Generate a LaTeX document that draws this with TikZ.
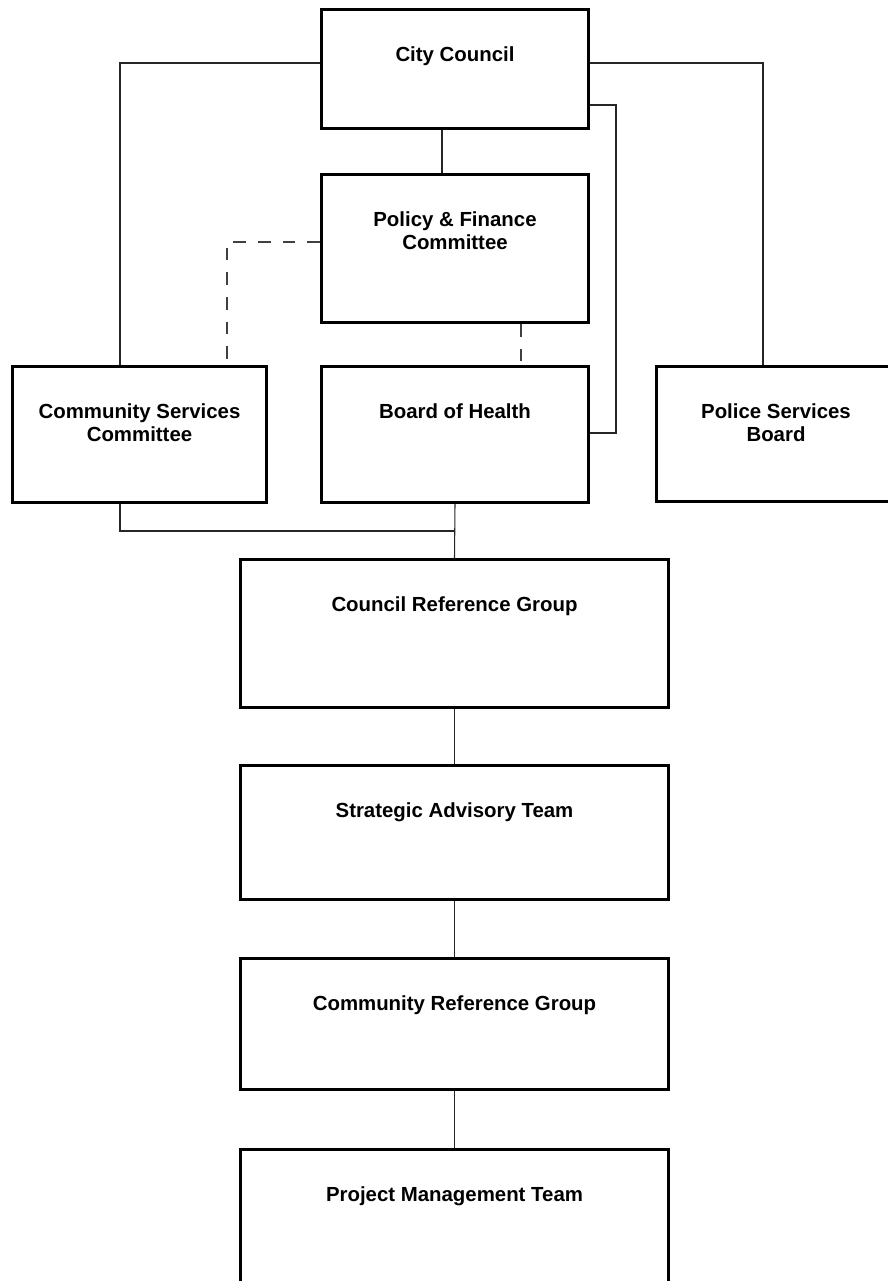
\documentclass[tikz,border=0pt]{standalone}
\usepackage{fontspec}
\setmainfont{Liberation Sans}
\usetikzlibrary{calc}

\tikzset{
  lbl/.style={font=\bfseries\fontsize{15.3}{17.6}\selectfont, align=center, inner sep=0pt},
  box/.style={draw, line width=2.25pt, inner sep=0pt,
    label={[lbl,anchor=north,yshift=-28.5pt]north:#1}},
  link/.style={draw=black!85, line width=0.8pt},
  dashlink/.style={draw=black!75, line width=0.9pt, dash pattern=on 9.5pt off 9pt}
}

\begin{document}
\begin{tikzpicture}[x=0.75pt,y=-0.75pt]
  \useasboundingbox (0,0) rectangle (888,1281);

  % top of the structure
  \node[box={City Council}, minimum width=200.25pt, minimum height=89.25pt] (cc) at (455,69) {};
  \node[box={Policy \& Finance\\Committee}, minimum width=200.25pt, minimum height=111pt] (pf) at (455,248.5) {};

  % committees and boards
  \node[box={Community Services\\Committee}, minimum width=190.5pt, minimum height=102pt] (csc) at (139.5,434.5) {};
  \node[box={Board of Health}, minimum width=200.25pt, minimum height=102pt] (boh) at (455,434.5) {};
  \node[box={Police Services\\Board}, minimum width=179.25pt, minimum height=101.25pt] (psb) at (776,434) {};

  % project groups
  \node[box={Council Reference Group}, minimum width=321pt, minimum height=111pt] (crg) at (454.5,633.5) {};
  \node[box={Strategic Advisory Team}, minimum width=321pt, minimum height=100.5pt] (sat) at (454.5,832.5) {};
  \node[box={Community Reference Group}, minimum width=321pt, minimum height=98.25pt] (cmrg) at (454.5,1024) {};
  \node[box={Project Management Team}, minimum width=321pt, minimum height=111pt] (pmt) at (454.5,1223.5) {};

  % bend points
  \coordinate (lbus) at (120,63);
  \coordinate (rbus) at (763,63);
  \coordinate (ccdown) at (442,0);
  \coordinate (hloop) at (616,105);
  \coordinate (hlow) at (616,433);
  \coordinate (dl) at (227,242);
  \coordinate (dr) at (521,0);
  \coordinate (jn) at (455,531);

  % solid links
  \draw[link] (cc.west |- lbus) -| (csc.north -| lbus);
  \draw[link] (cc.east |- rbus) -| (psb.north -| rbus);
  \draw[link] (cc.south -| ccdown) -- (pf.north -| ccdown);
  \draw[link] (cc.east |- hloop) -- (hloop) -- (hlow) -- (boh.east |- hlow);
  \draw[link] (csc.south -| lbus) |- (jn);
  \draw[link] (boh.south) -- (crg.north);
  \draw[link] (crg.south) -- (sat.north);
  \draw[link] (sat.south) -- (cmrg.north);
  \draw[link] (cmrg.south) -- (pmt.north);

  % dashed links
  \draw[dashlink] (pf.west |- dl) -| (csc.north -| dl);
  \draw[dashlink] (pf.south -| dr) -- (boh.north -| dr);
\end{tikzpicture}
\end{document}
